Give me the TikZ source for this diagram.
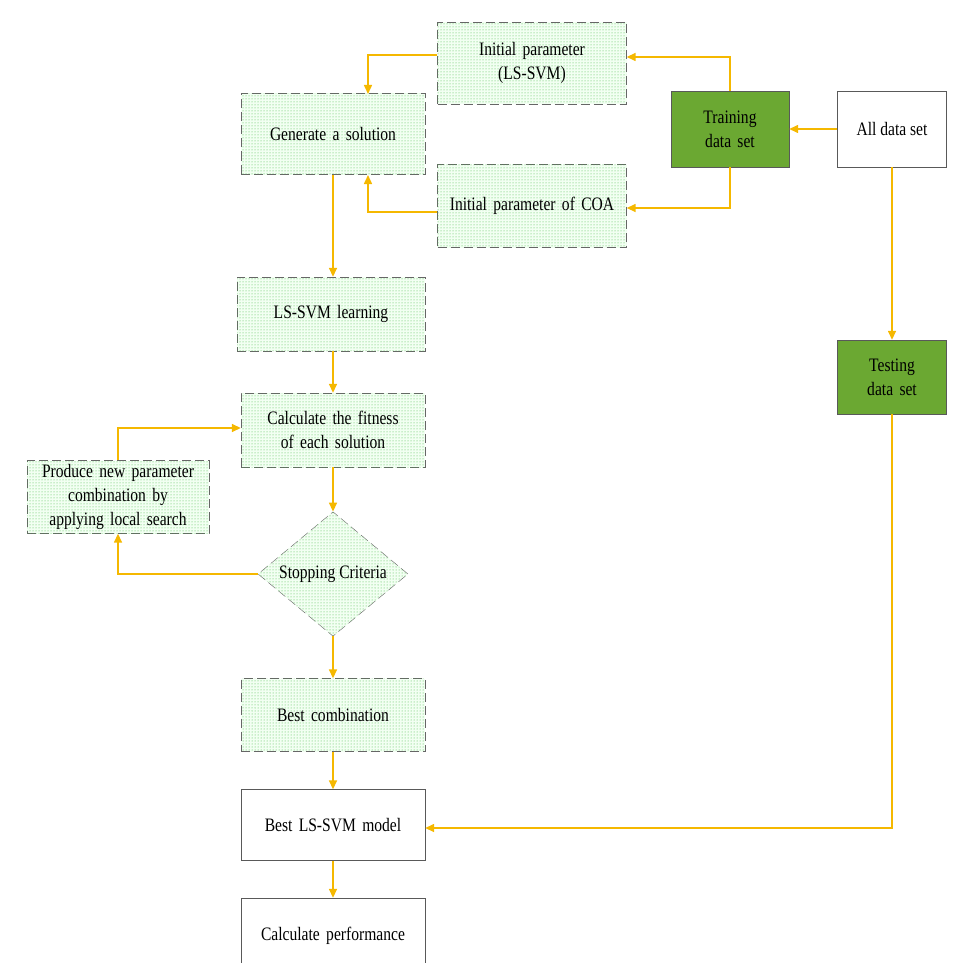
\documentclass[tikz,border=0pt]{standalone}
\usepackage{fontspec}
\setmainfont{Liberation Serif}[FakeStretch=0.82]
\usetikzlibrary{shapes.geometric,arrows.meta,patterns}
\definecolor{arrowyellow}{HTML}{F5B800}
\definecolor{leafgreen}{HTML}{6BA832}
\tikzstyle{block} = [rectangle, draw=gray!80!black, dashed, dash pattern=on 9pt off 4pt,
    fill=green!5, postaction={pattern=dots, pattern color=green!45!gray},
    text width=170pt, align=center, font=\fontsize{19}{24}\selectfont, inner sep=2pt]
\tikzstyle{decision} = [diamond, draw=gray!80!black, dash pattern=on 9pt off 4pt,
    fill=green!5, postaction={pattern=dots, pattern color=green!45!gray},
    minimum width=150pt, minimum height=120pt, font=\fontsize{19}{24}\selectfont, inner sep=0pt]
\tikzstyle{plain} = [rectangle, draw=gray!70!black, align=center,
    font=\fontsize{19}{24}\selectfont, inner sep=2pt]
\tikzstyle{data} = [plain, fill=leafgreen, minimum width=118pt, minimum height=76pt, text width=100pt]
\tikzstyle{line} = [draw=arrowyellow, line width=1.5pt, -{Triangle[length=9pt,width=8pt]}]

\begin{document}
\begin{tikzpicture}[x=1pt,y=-1pt]
    \useasboundingbox (0,0) rectangle (960,963);
    \clip (0,0) rectangle (960,963);
    % Place nodes
    \node [block, minimum width=189pt, minimum height=82pt] (initsvm) at (532,63) {Initial parameter\\(LS-SVM)};
    \node [block, minimum width=184pt, minimum height=81pt] (generate) at (333,134) {Generate a solution};
    \node [block, minimum width=189pt, minimum height=83pt] (initcoa) at (532,206) {Initial parameter of COA};
    \node [data] (train) at (730,129) {Training data set};
    \node [plain, minimum width=109pt, minimum height=76pt] (all) at (892,129) {All data set};
    \node [block, minimum width=188pt, minimum height=74pt] (learn) at (331,314) {LS-SVM learning};
    \node [block, minimum width=184pt, minimum height=74pt] (fitness) at (333,430) {Calculate the fitness of each solution};
    \node [block, minimum width=182pt, minimum height=73pt] (produce) at (118,497) {Produce new parameter combination by applying local search};
    \node [decision] (stop) at (333,574) {Stopping Criteria};
    \node [block, minimum width=184pt, minimum height=73pt] (best) at (333,715) {Best combination};
    \node [plain, minimum width=184pt, minimum height=71pt, text width=170pt] (model) at (333,825) {Best LS-SVM model};
    \node [plain, minimum width=184pt, minimum height=76pt, text width=170pt] (perf) at (333,936) {Calculate performance};
    \node [data, minimum width=109pt, minimum height=74pt, text width=100pt] (test) at (892,377) {Testing data set};
    % Draw edges
    \path [line] (initsvm.west |- 0,55) -| (368,94);
    \path [line] (train.north) |- (initsvm.east |- 0,57);
    \path [line] (all) -- (train);
    \path [line] (train.south) |- (initcoa.east |- 0,208);
    \path [line] (initcoa.west |- 0,212) -| (368,175);
    \path [line] (generate) -- (learn.north -| generate);
    \path [line] (learn.south -| generate) -- (fitness);
    \path [line] (fitness) -- (stop);
    \path [line] (stop.west) -| (produce.south);
    \path [line] (produce.north) |- (fitness.west |- 0,428);
    \path [line] (stop) -- (best);
    \path [line] (best) -- (model);
    \path [line] (model) -- (perf);
    \path [line] (all) -- (test);
    \path [line] (test.south) |- (model.east |- 0,828);
\end{tikzpicture}
\end{document}
